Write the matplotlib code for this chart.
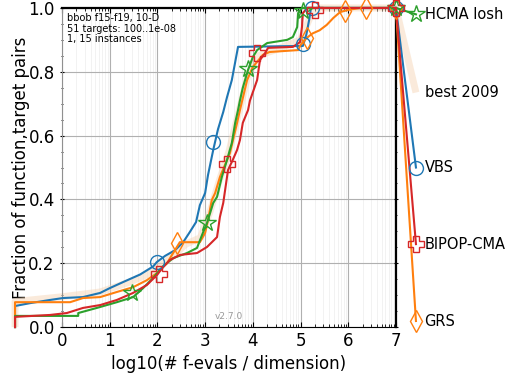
import numpy as np
import matplotlib.pyplot as plt
from matplotlib.ticker import FixedLocator, MultipleLocator

# ECDF curves (x = log10(#f-evals/dim), y = fraction)
vbs_x = [-0.985, -0.985, -0.67, -0.25, 0.02, 0.44, 0.80, 1.0, 1.28, 1.64, 1.91, 1.99, 2.16, 2.37,
         2.54, 2.68, 2.81, 2.89, 3.0, 3.06, 3.17, 3.27, 3.38, 3.46, 3.56, 3.69, 5.05, 5.12,
         5.18, 5.22, 7.0]
vbs_y = [0.0, 0.066, 0.075, 0.085, 0.091, 0.094, 0.107, 0.122, 0.141, 0.165, 0.19, 0.204, 0.223,
         0.241, 0.266, 0.298, 0.329, 0.382, 0.42, 0.476, 0.555, 0.62, 0.674, 0.721, 0.774,
         0.878, 0.881, 0.915, 0.962, 1.0, 1.0]

grs_x = [-0.985, -0.985, 0.17, 0.44, 0.80, 1.15, 1.49, 1.78, 1.99, 2.20, 2.33, 2.47, 2.89, 3.0,
         3.06, 3.14, 3.21, 3.31, 3.46, 3.52, 3.67, 3.73, 3.88, 4.0, 4.21, 4.35, 4.95, 5.0,
         5.13, 5.25, 5.4, 5.55, 5.69, 5.83, 6.0, 6.25, 7.0]
grs_y = [0.0, 0.078, 0.078, 0.091, 0.094, 0.11, 0.125, 0.147, 0.169, 0.20, 0.232, 0.266, 0.266,
         0.295, 0.335, 0.398, 0.42, 0.47, 0.524, 0.545, 0.64, 0.68, 0.774, 0.815, 0.853,
         0.862, 0.868, 0.884, 0.906, 0.92, 0.93, 0.947, 0.969, 0.987, 0.994, 1.0, 1.0]

hcma_x = [-0.985, -0.985, 0.34, 0.34, 0.73, 1.15, 1.49, 1.70, 1.91, 2.12, 2.33, 2.62, 2.83, 2.96,
          3.04, 3.17, 3.25, 3.35, 3.46, 3.56, 3.63, 3.69, 3.73, 3.79, 3.90, 4.0, 4.09,
          4.30, 4.72, 4.84, 4.93, 4.95, 5.03, 7.0]
hcma_y = [0.0, 0.035, 0.035, 0.044, 0.06, 0.078, 0.094, 0.122, 0.154, 0.191, 0.216, 0.232, 0.248,
          0.298, 0.326, 0.389, 0.408, 0.47, 0.524, 0.577, 0.64, 0.68, 0.71, 0.75, 0.806,
          0.846, 0.868, 0.89, 0.90, 0.909, 0.94, 0.984, 1.0, 1.0]

bipop_x = [-0.985, -0.985, -0.25, 0.10, 0.44, 0.80, 1.15, 1.49, 1.78, 1.99, 2.12, 2.26, 2.47, 2.83,
           3.04, 3.25, 3.31, 3.38, 3.48, 3.58, 3.67, 3.73, 3.79, 3.90, 3.94, 4.09, 4.15,
           4.26, 4.32, 4.84, 4.99, 5.03, 5.05, 5.14, 7.0]
bipop_y = [0.0, 0.032, 0.038, 0.044, 0.06, 0.069, 0.085, 0.107, 0.132, 0.163, 0.188, 0.21, 0.226,
           0.232, 0.251, 0.282, 0.345, 0.389, 0.492, 0.524, 0.555, 0.586, 0.64, 0.68, 0.71,
           0.774, 0.837, 0.859, 0.875, 0.878, 0.893, 0.94, 0.984, 1.0, 1.0]

best_x = [-0.985, -0.985, 0.0, 0.8, 1.4, 1.8, 2.0, 2.3, 2.6, 2.9, 3.1, 3.3, 3.5, 3.7, 3.9, 4.1,
          4.5, 5.0, 5.2, 5.4, 7.0]
best_y = [0.0, 0.08, 0.095, 0.11, 0.14, 0.165, 0.185, 0.22, 0.26, 0.28, 0.36, 0.46, 0.55, 0.67,
          0.79, 0.85, 0.87, 0.9, 0.97, 1.0, 1.0]

# marker positions along each curve
vbs_mx, vbs_my = [1.99, 3.17, 5.05, 5.24, 7.0], [0.204, 0.58, 0.887, 1.0, 1.0]
grs_mx, grs_my = [2.41, 5.13, 5.93, 6.37, 7.0], [0.263, 0.906, 0.99, 1.0, 1.0]
hcma_mx, hcma_my = [1.47, 3.04, 3.9, 5.05, 7.0], [0.107, 0.326, 0.81, 0.99, 1.0]
bipop_mx, bipop_my = [2.04, 3.46, 4.08, 5.3, 7.0], [0.166, 0.51, 0.86, 0.995, 1.0]

# end labels on the right
labels = ["HCMA losh", "best 2009", "VBS", "BIPOP-CMA", "GRS"]
label_y = [0.98, 0.735, 0.50, 0.26, 0.019]

x_end = 7.42
x_text = 7.6

fig = plt.figure(figsize=(5.05, 3.79), dpi=100)
ax = fig.add_axes([0.1228, 0.137, 0.784 - 0.1228, 0.979 - 0.137])

ax.plot(best_x + [x_end], best_y + [label_y[1]], color='#f5d2b0', alpha=0.45, lw=5,
        clip_on=False, zorder=2, solid_capstyle='butt')

series = [
    (vbs_x, vbs_y, vbs_mx, vbs_my, label_y[2], '#1f77b4', 'o', 10),
    (grs_x, grs_y, grs_mx, grs_my, label_y[4], '#ff7f0e', 'd', 11),
    (hcma_x, hcma_y, hcma_mx, hcma_my, label_y[0], '#2ca02c', '*', 13),
    (bipop_x, bipop_y, bipop_mx, bipop_my, label_y[3], '#d62728', 'P', 11),
]
for xs, ys, mx, my, ly, col, mk, ms in series:
    ax.plot(xs + [x_end], ys + [ly], color=col, lw=1.5, clip_on=False, zorder=3)
    ax.plot(mx + [x_end], my + [ly], ls='none', marker=mk, ms=ms, mfc='none', mec=col,
            mew=1, clip_on=False, zorder=4)

for lab, ly in zip(labels, label_y):
    ax.text(x_text, ly, lab, fontsize=10.5, va='center', ha='left', clip_on=False)

ax.set_xlim(0, 7)
ax.set_ylim(0, 1)
ax.set_xticks(range(8))
minor = [k + np.log10(m) for k in range(7) for m in range(2, 10)]
ax.xaxis.set_minor_locator(FixedLocator(minor))
ax.yaxis.set_major_locator(MultipleLocator(0.2))
ax.yaxis.set_minor_locator(MultipleLocator(0.05))
ax.tick_params(labelsize=12, top=True, right=True, which='both', direction='in')
ax.tick_params(axis='y', which='both', direction='inout')
ax.grid(True, which='major', color='#b0b0b0', lw=0.8)
ax.grid(True, which='minor', axis='x', color='#f0f0f0', lw=0.6)
ax.set_axisbelow(True)

for side in ['top', 'right']:
    ax.spines[side].set_linewidth(1.6)
    ax.spines[side].set_color('black')
ax.spines['left'].set_color('#909090')

ax.set_xlabel("log10(# f-evals / dimension)", fontsize=12)
ax.set_ylabel("Fraction of function,target pairs", fontsize=12, labelpad=-1)

ax.text(0.015, 0.985, "bbob f15-f19, 10-D\n51 targets: 100..1e-08\n1, 15 instances",
        transform=ax.transAxes, fontsize=7, va='top', ha='left', linespacing=1.1)
ax.text(3.5, 0.02, "v2.7.0", fontsize=6.5, color='#999999', ha='center', va='bottom')

plt.savefig("out.png", dpi=100)
